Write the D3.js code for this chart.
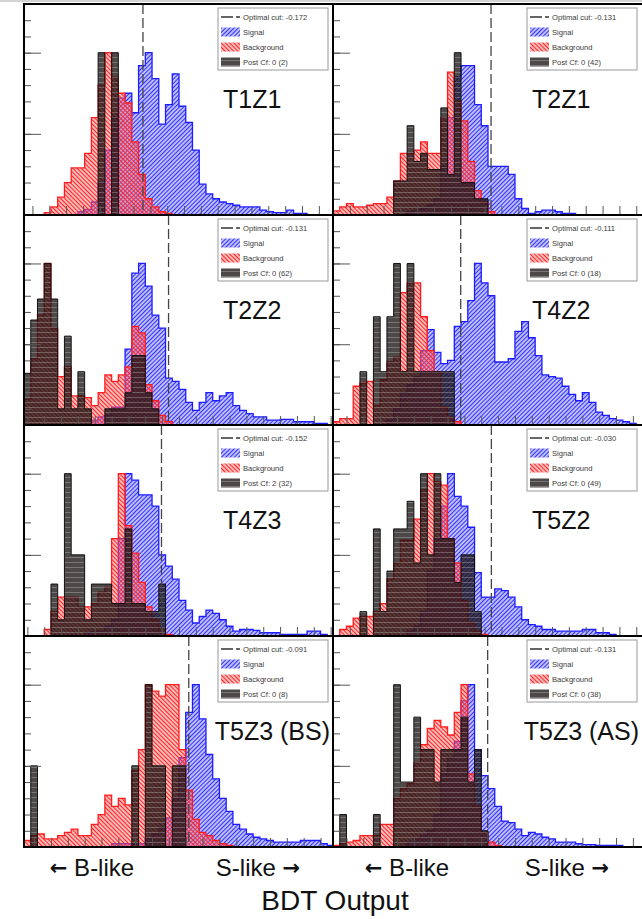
<!DOCTYPE html>
<html>
<head>
<meta charset="utf-8">
<script src="https://cdn.jsdelivr.net/npm/d3@7"></script>
<style>
  body { margin: 0; background: #fff; }
  svg { display: block; }
  text { font-family: "Liberation Sans", Arial, Helvetica, sans-serif; }
</style>
</head>
<body>
<svg id="chart" width="642" height="919"></svg>
<script>
// ---- panel metadata ----
const panelNames = ["T1Z1", "T2Z1", "T2Z2", "T4Z2", "T4Z3", "T5Z2", "T5Z3 (BS)", "T5Z3 (AS)"];
const optimalCuts = [-0.172, -0.131, -0.131, -0.111, -0.152, -0.030, -0.091, -0.131];
const postCfLabels = ["0 (2)", "0 (42)", "0 (62)", "0 (18)", "2 (32)", "0 (49)", "0 (8)", "0 (38)"];
// lower edge of the BDT-output axis of each panel; every panel spans 46 bins of 0.02
const axisMin = [-0.525, -0.60, -0.56, -0.49, -0.56, -0.50, -0.58, -0.59];
const axisSpan = 0.92;
const yTop = 1.3;

// ---- normalised histograms (46 bins each) ----
const signalT1Z1 = [0,0,0,0,0,0,0,0,0.02,0.035,0.08,0.2,0.4,0.6,0.72,0.75,0.63,0.92,1.0,0.84,0.56,0.68,0.87,0.67,0.57,0.4,0.19,0.13,0.1,0.08,0.07,0.06,0.05,0.05,0.05,0.03,0.02,0.015,0.015,0.03,0.01,0.01,0,0,0,0];
const backgroundT1Z1 = [0,0,0,0.015,0.05,0.11,0.2,0.29,0.29,0.38,0.6,0.8,1.0,0.85,0.75,0.69,0.45,0.25,0.1,0.05,0.02,0.01,0,0,0,0,0,0,0,0,0,0,0,0,0,0,0,0,0,0,0,0,0,0,0,0];
const postCfT1Z1 = [0,0,0,0,0,0,0,0,0,0,0,1,0,1,0,0,0,0,0,0,0,0,0,0,0,0,0,0,0,0,0,0,0,0,0,0,0,0,0,0,0,0,0,0,0,0];

const signalT2Z1 = [0,0,0,0,0,0,0,0,0,0,0,0.02,0.03,0.04,0.06,0.1,0.3,0.6,0.85,0.92,0.92,0.68,0.55,0.3,0.3,0.3,0.25,0.1,0.04,0.01,0.02,0.03,0.03,0.02,0.01,0.01,0,0,0,0,0,0,0,0,0,0];
const backgroundT2Z1 = [0.025,0.05,0.07,0.05,0.05,0.06,0.07,0.07,0.11,0.21,0.38,0.38,0.4,0.45,0.38,0.38,0.6,0.88,0.7,0.58,0.33,0.15,0.08,0.02,0,0,0,0,0,0,0,0,0,0,0,0,0,0,0,0,0,0,0,0,0,0];
const postCfT2Z1 = [0,0,0,0,0,0,0,0,0,0.21,0.21,0.55,0.33,0.38,0.28,0.28,0.66,0.25,1.0,0.2,0.2,0.1,0.1,0,0,0,0,0,0,0,0,0,0,0,0,0,0,0,0,0,0,0,0,0,0,0];

const signalT2Z2 = [0,0,0,0,0,0,0,0,0,0,0.03,0.05,0.06,0.11,0.11,0.47,0.94,1.0,0.86,0.68,0.6,0.29,0.27,0.22,0.14,0.09,0.14,0.2,0.15,0.18,0.2,0.12,0.09,0.07,0.05,0.05,0.03,0.03,0.035,0.035,0.02,0.02,0.02,0.01,0.01,0];
const backgroundT2Z2 = [0.16,0.41,0.68,1.0,0.6,0.3,0.36,0.18,0.18,0.17,0.12,0.2,0.31,0.27,0.31,0.36,0.61,0.57,0.25,0.15,0.06,0.02,0,0,0,0,0,0,0,0,0,0,0,0,0,0,0,0,0,0,0,0,0,0,0,0];
const postCfT2Z2 = [0.32,0.65,0.78,1.0,0.78,0.1,0.55,0.1,0.33,0.1,0,0,0.1,0.1,0.1,0.2,0.43,0.43,0.2,0.1,0,0,0,0,0,0,0,0,0,0,0,0,0,0,0,0,0,0,0,0,0,0,0,0,0,0];

const signalT4Z2 = [0,0,0,0,0,0,0,0,0.03,0.1,0.2,0.25,0.3,0.46,0.59,0.45,0.38,0.4,0.61,0.64,0.77,1.0,0.88,0.8,0.39,0.39,0.41,0.58,0.64,0.54,0.43,0.31,0.3,0.29,0.24,0.19,0.15,0.2,0.14,0.08,0.06,0.04,0.03,0.02,0.01,0];
const backgroundT4Z2 = [0.02,0.04,0.04,0.24,0.26,0.27,0.12,0.28,0.39,0.42,0.82,0.88,0.88,0.67,0.46,0.33,0.11,0.05,0.02,0,0,0,0,0,0,0,0,0,0,0,0,0,0,0,0,0,0,0,0,0,0,0,0,0,0,0];
const postCfT4Z2 = [0,0,0,0,0.33,0,0.67,0.33,0.67,1.0,0.33,1.0,0.33,0.33,0.33,0.33,0.33,0.33,0,0,0,0,0,0,0,0,0,0,0,0,0,0,0,0,0,0,0,0,0,0,0,0,0,0,0,0];

const signalT4Z3 = [0,0,0,0,0,0,0,0,0,0.02,0.03,0.03,0.06,0.1,0.6,1.0,0.96,0.87,0.87,0.8,0.5,0.43,0.35,0.22,0.16,0.08,0.12,0.16,0.14,0.1,0.06,0.03,0.04,0.04,0.035,0.02,0.02,0.02,0.01,0.01,0.01,0.01,0.03,0.03,0.01,0];
const backgroundT4Z3 = [0,0,0,0.04,0.15,0.24,0.24,0.24,0.18,0.18,0.2,0.27,0.3,0.6,1.0,0.68,0.51,0.33,0.18,0.1,0.04,0.01,0,0,0,0,0,0,0,0,0,0,0,0,0,0,0,0,0,0,0,0,0,0,0,0];
const postCfT4Z3 = [0,0,0,0,0.32,0.1,1.0,0.5,0.5,0.1,0.32,0.32,0.32,0.2,0.2,0.66,0.2,0.2,0.15,0.15,0.32,0,0,0,0,0,0,0,0,0,0,0,0,0,0,0,0,0,0,0,0,0,0,0,0,0];

const signalT5Z2 = [0,0,0,0,0,0,0,0,0,0,0,0.03,0.06,0.15,0.4,0.6,0.8,1.0,0.86,0.8,0.67,0.39,0.24,0.24,0.29,0.28,0.24,0.18,0.1,0.07,0.06,0.04,0.04,0.03,0.03,0.03,0.03,0.04,0.04,0.02,0.02,0.01,0,0,0,0];
const backgroundT5Z2 = [0,0.04,0.06,0.11,0.12,0.12,0.15,0.2,0.35,0.45,0.59,0.59,0.72,0.9,1.0,0.95,0.93,0.6,0.45,0.22,0.08,0.03,0.01,0,0,0,0,0,0,0,0,0,0,0,0,0,0,0,0,0,0,0,0,0,0,0];
const postCfT5Z2 = [0,0,0,0,0.15,0,0.66,0.15,0.4,0.66,0.66,0.83,0.45,1.0,0.5,1.0,0.6,0.6,0.33,0.5,0.5,0.15,0,0,0,0,0,0,0,0,0,0,0,0,0,0,0,0,0,0,0,0,0,0,0,0];

const signalT5Z3BS = [0,0,0,0,0,0,0,0,0,0,0,0,0,0.02,0.02,0.02,0.02,0.02,0.05,0.08,0.12,0.18,0.3,0.55,0.83,1.0,0.79,0.57,0.42,0.3,0.22,0.14,0.11,0.08,0.06,0.05,0.04,0.03,0.03,0.03,0.03,0.04,0.04,0.04,0.02,0.01];
const backgroundT5Z3BS = [0.04,0.07,0.08,0.05,0.05,0.07,0.09,0.11,0.07,0.07,0.14,0.2,0.32,0.25,0.3,0.26,0.47,0.6,1.0,0.96,0.93,1.0,1.0,0.6,0.35,0.17,0.09,0.07,0.04,0.02,0.01,0,0,0,0,0,0,0,0,0,0,0,0,0,0,0];
const postCfT5Z3BS = [0,0.5,0,0,0,0,0,0,0,0,0,0,0,0,0,0,0.5,0,1.0,0.5,0.5,0,0.5,0.5,0,0,0,0,0,0,0,0,0,0,0,0,0,0,0,0,0,0,0,0,0,0];

const signalT5Z3AS = [0,0,0,0,0,0,0,0,0,0,0,0.03,0.05,0.07,0.1,0.2,0.45,0.55,0.65,0.9,1.0,0.6,0.44,0.36,0.25,0.16,0.15,0.11,0.07,0.09,0.08,0.06,0.05,0.03,0.03,0.03,0.02,0.015,0.015,0.01,0.01,0.01,0.01,0,0,0];
const backgroundT5Z3AS = [0.01,0.02,0.03,0.04,0.07,0.07,0.07,0.14,0.14,0.3,0.36,0.39,0.52,0.63,0.73,0.78,0.74,0.69,0.83,1.0,0.45,0.25,0.09,0.03,0.01,0,0,0,0,0,0,0,0,0,0,0,0,0,0,0,0,0,0,0,0,0];
const postCfT5Z3AS = [0,0.2,0,0,0,0,0.2,0,0,1.0,0.4,0.4,0.8,0.6,0.6,0.4,0.6,0.6,0.6,0.8,0.4,0.6,0.1,0,0,0,0,0,0,0,0,0,0,0,0,0,0,0,0,0,0,0,0,0,0,0];

const signalSets = [signalT1Z1, signalT2Z1, signalT2Z2, signalT4Z2, signalT4Z3, signalT5Z2, signalT5Z3BS, signalT5Z3AS];
const backgroundSets = [backgroundT1Z1, backgroundT2Z1, backgroundT2Z2, backgroundT4Z2, backgroundT4Z3, backgroundT5Z2, backgroundT5Z3BS, backgroundT5Z3AS];
const postCfSets = [postCfT1Z1, postCfT2Z1, postCfT2Z2, postCfT4Z2, postCfT4Z3, postCfT5Z2, postCfT5Z3BS, postCfT5Z3AS];

// ---- page layout ----
const colLeft = [24, 333];
const panelWidth = 310;
const rowTop = [4, 215, 425, 636];
const rowBottom = [215, 425, 636, 847];

const svg = d3.select("#chart");
const defs = svg.append("defs");

// hatch fills
function hatch(id, angle, tint, lineColor, size, lw) {
  const p = defs.append("pattern").attr("id", id)
    .attr("patternUnits", "userSpaceOnUse")
    .attr("width", size).attr("height", size)
    .attr("patternTransform", `rotate(${angle})`);
  p.append("rect").attr("width", size).attr("height", size).attr("fill", tint);
  p.append("line").attr("x1", size / 2).attr("x2", size / 2).attr("y1", 0).attr("y2", size)
    .attr("stroke", lineColor).attr("stroke-width", lw);
}
hatch("hatchSignal", 45, "rgba(120,120,255,0.40)", "#3030ff", 3.0, 1.15);
hatch("hatchBackground", -45, "rgba(255,120,120,0.42)", "#ff2424", 3.0, 1.15);
{
  const p = defs.append("pattern").attr("id", "hatchPostCf")
    .attr("patternUnits", "userSpaceOnUse").attr("width", 8).attr("height", 5);
  p.append("rect").attr("width", 8).attr("height", 5).attr("fill", "rgba(22,16,16,0.76)");
  p.append("line").attr("x1", 0).attr("x2", 8).attr("y1", 2.5).attr("y2", 2.5)
    .attr("stroke", "rgba(255,255,255,0.28)").attr("stroke-width", 0.9);
}

// thin grey band along the top edge
svg.append("rect").attr("x", 0).attr("y", 0).attr("width", 642).attr("height", 2).attr("fill", "#d4d4d4");

function histPath(values, x, y) {
  const lo = x.domain()[0], hi = x.domain()[1];
  const step = (hi - lo) / values.length;
  const pts = values.map((v, i) => [lo + i * step, v]);
  pts.push([hi, values[values.length - 1]]);
  return d3.area()
    .x(d => x(d[0])).y0(y(0)).y1(d => y(d[1]))
    .curve(d3.curveStepAfter)(pts);
}

panelNames.forEach((name, k) => {
  const col = k % 2, row = Math.floor(k / 2);
  const x0 = colLeft[col], top = rowTop[row], bottom = rowBottom[row];
  const x = d3.scaleLinear().domain([axisMin[k], axisMin[k] + axisSpan]).range([x0, x0 + panelWidth]);
  const y = d3.scaleLinear().domain([0, yTop]).range([bottom, top]);

  defs.append("clipPath").attr("id", "clip" + k)
    .append("rect").attr("x", x0).attr("y", top).attr("width", panelWidth).attr("height", bottom - top);

  const g = svg.append("g").attr("clip-path", `url(#clip${k})`);
  g.append("rect").attr("x", x0).attr("y", top).attr("width", panelWidth).attr("height", bottom - top).attr("fill", "#fff");

  // histograms: signal, background, then post-cut candidates on top
  g.append("path").attr("d", histPath(signalSets[k], x, y))
    .attr("fill", "url(#hatchSignal)").attr("stroke", "#1c1cff").attr("stroke-width", 1.3);
  g.append("path").attr("d", histPath(backgroundSets[k], x, y))
    .attr("fill", "url(#hatchBackground)").attr("stroke", "#ff1c1c").attr("stroke-width", 1.3);
  g.append("path").attr("d", histPath(postCfSets[k], x, y))
    .attr("fill", "url(#hatchPostCf)").attr("stroke", "#111").attr("stroke-width", 1);

  // axis ticks (no labels)
  const yMinor = g.append("g").attr("transform", `translate(${x0},0)`)
    .call(d3.axisRight(y).tickValues(d3.range(0, 1.301, 0.1)).tickSize(7).tickFormat(""));
  const yMajor = g.append("g").attr("transform", `translate(${x0},0)`)
    .call(d3.axisRight(y).tickValues([0, 0.5, 1.0]).tickSize(17).tickFormat(""));
  const xTicks = d3.range(Math.ceil(axisMin[k] / 0.05) * 0.05, axisMin[k] + axisSpan, 0.05);
  const xAxis = g.append("g").attr("transform", `translate(0,${bottom})`)
    .call(d3.axisTop(x).tickValues(xTicks).tickSize(9).tickFormat(""));
  [yMinor, yMajor, xAxis].forEach(a => {
    a.select(".domain").remove();
    a.selectAll("line").attr("stroke", "#555").attr("stroke-width", 1);
  });

  // optimal cut
  g.append("line")
    .attr("x1", x(optimalCuts[k])).attr("x2", x(optimalCuts[k]))
    .attr("y1", top).attr("y2", bottom)
    .attr("stroke", "#444").attr("stroke-width", 1.3).attr("stroke-dasharray", "10,4");

  // legend
  const lg = g.append("g").attr("transform", `translate(${x0 + 194},${top + 4})`);
  lg.append("rect").attr("x", 0).attr("y", 0).attr("width", 110).attr("height", 62)
    .attr("fill", "#fff").attr("stroke", "#999").attr("stroke-width", 1);
  const rowsY = [9, 24, 39, 54];
  lg.append("line").attr("x1", 3).attr("x2", 22).attr("y1", rowsY[0]).attr("y2", rowsY[0])
    .attr("stroke", "#333").attr("stroke-width", 1.4).attr("stroke-dasharray", "12,3,4");
  const boxes = ["url(#hatchSignal)", "url(#hatchBackground)", "url(#hatchPostCf)"];
  boxes.forEach((f, j) => {
    lg.append("rect").attr("x", 3).attr("y", rowsY[j + 1] - 4.5).attr("width", 19).attr("height", 9).attr("fill", f);
  });
  const legendText = ["Optimal cut: " + optimalCuts[k].toFixed(3), "Signal", "Background", "Post Cf: " + postCfLabels[k]];
  legendText.forEach((t, j) => {
    lg.append("text").attr("x", 25).attr("y", rowsY[j] + 2.7)
      .attr("font-size", 7.6).attr("fill", "#3a3a3a").text(t);
  });

  // panel name
  const label = g.append("text").attr("y", top + 104).attr("font-size", 25).attr("fill", "#111").text(name);
  const w = label.node().getComputedTextLength();
  label.attr("x", x0 + Math.min(199, 306 - w));

  // frame
  svg.append("rect").attr("x", x0).attr("y", top).attr("width", panelWidth).attr("height", bottom - top)
    .attr("fill", "none").attr("stroke", "#000").attr("stroke-width", 2);
});

// direction hints and axis title
const hints = [
  { arrow: "\u2190", word: "B-like", x: 92, left: true },
  { arrow: "\u2192", word: "S-like", x: 258, left: false },
  { arrow: "\u2190", word: "B-like", x: 407, left: true },
  { arrow: "\u2192", word: "S-like", x: 567, left: false }
];
hints.forEach(h => {
  const t = svg.append("text").attr("x", h.x).attr("y", 876).attr("text-anchor", "middle")
    .attr("font-size", 24).attr("fill", "#111");
  const arrow = s => t.append("tspan").attr("font-family", "DejaVu Sans").attr("font-weight", "bold")
    .attr("font-size", 21).attr("dy", -1).text(s);
  if (h.left) {
    arrow(h.arrow);
    t.append("tspan").attr("dy", 1).text(" " + h.word);
  } else {
    t.append("tspan").text(h.word + " ");
    arrow(h.arrow);
  }
});
svg.append("text").attr("x", 335).attr("y", 910).attr("text-anchor", "middle")
  .attr("font-size", 28).attr("fill", "#111").text("BDT Output");
</script>
</body>
</html>
